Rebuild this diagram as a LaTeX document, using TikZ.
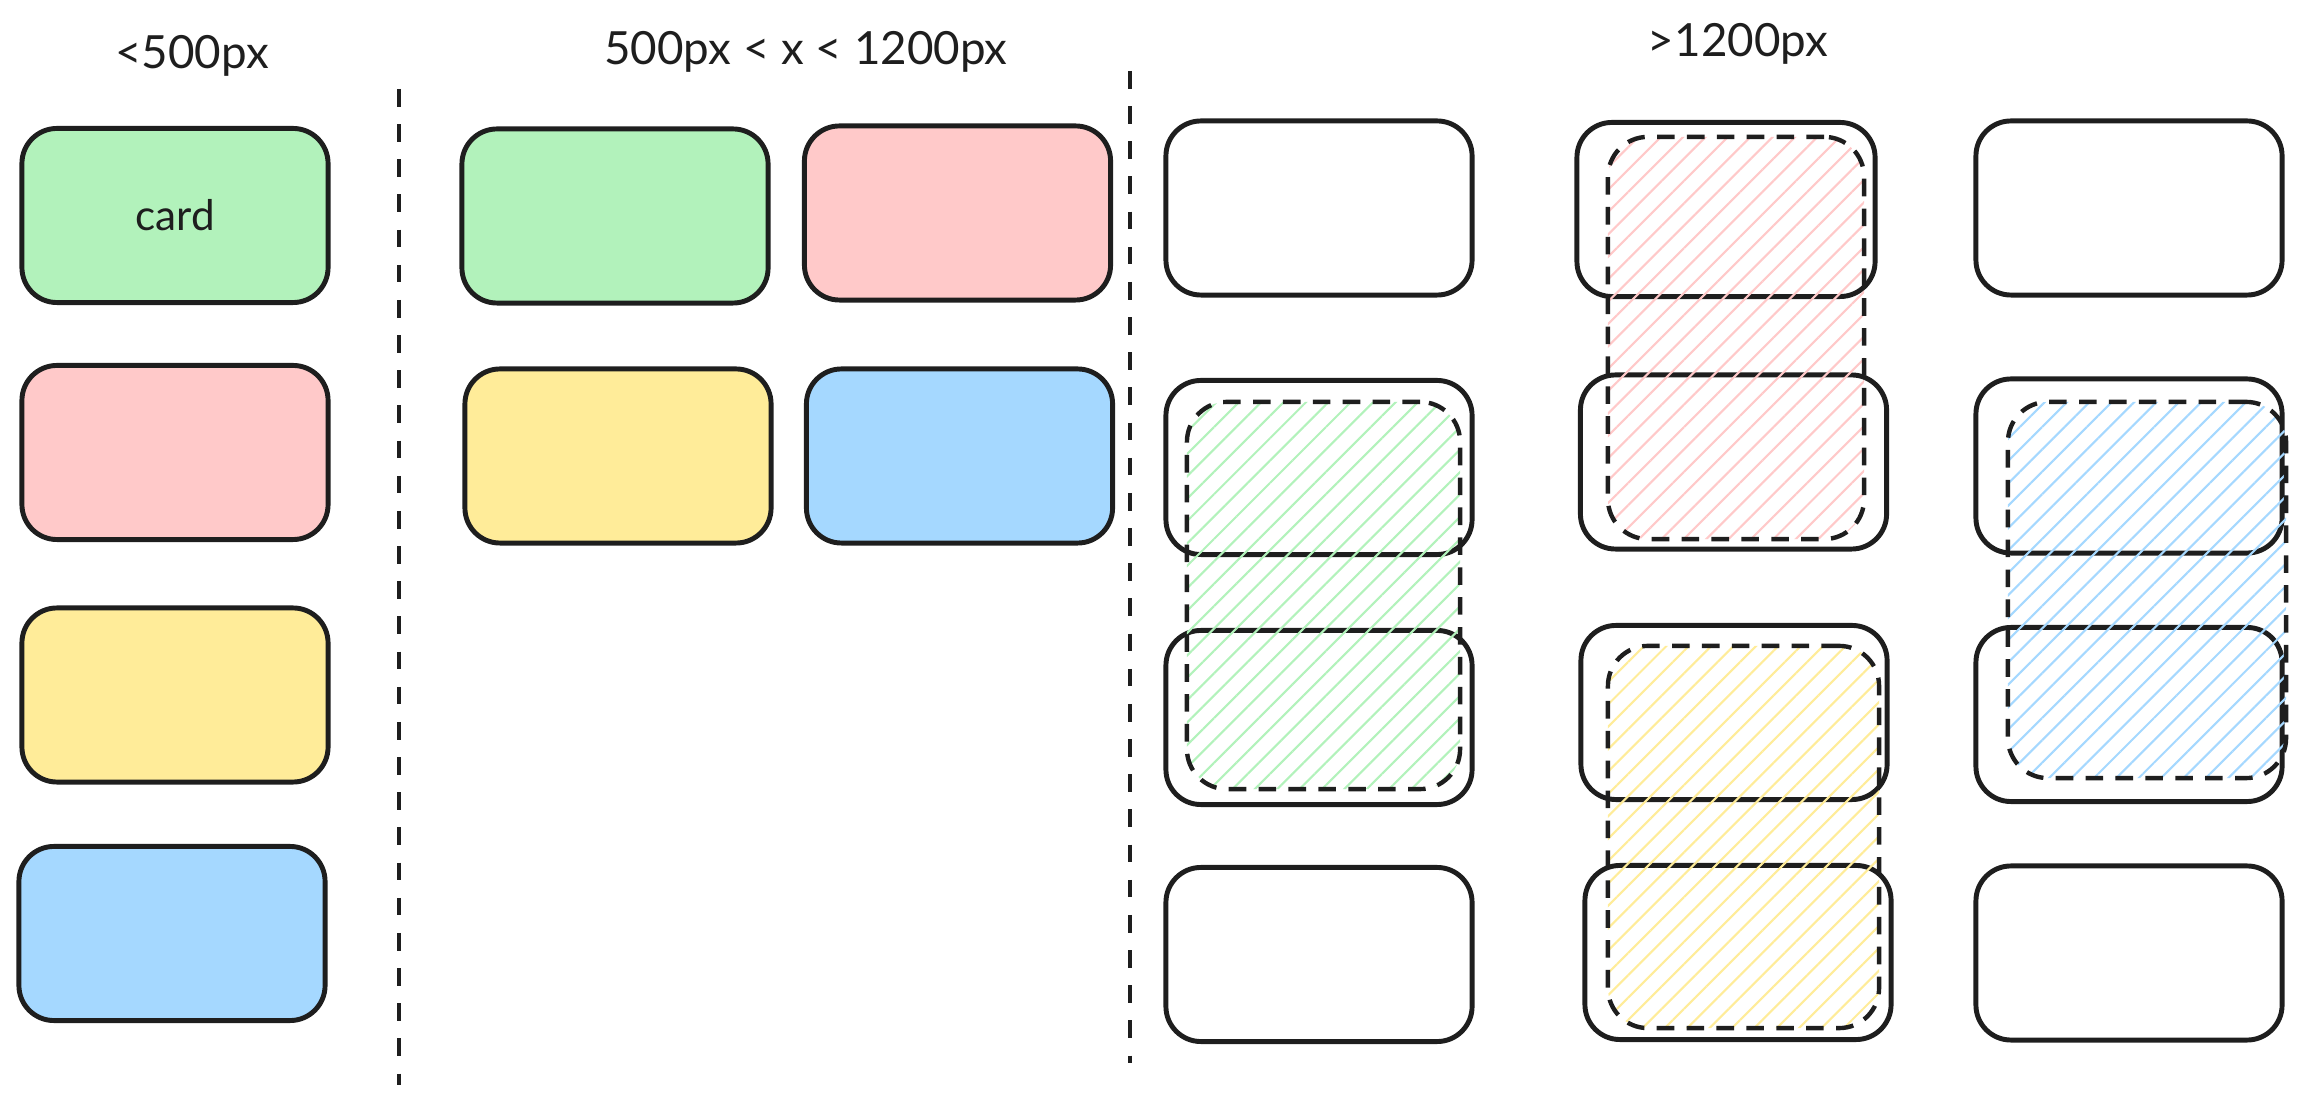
\documentclass[tikz,border=0pt]{standalone}
\usepackage{fontspec}
\setmainfont{Lato}
\usetikzlibrary{patterns.meta}
\definecolor{ink}{HTML}{1E1E1E}
\definecolor{cgreen}{HTML}{B2F2BB}
\definecolor{cred}{HTML}{FFC9C9}
\definecolor{cyellow}{HTML}{FFEC99}
\definecolor{cblue}{HTML}{A5D8FF}
\begin{document}
\begin{tikzpicture}[x=0.01cm,y=-0.01cm,
  card/.style={draw=ink, line width=1.4pt, rounded corners=0.35cm, minimum width=3.06cm, minimum height=1.74cm, inner sep=0pt, font=\fontsize{12}{14}\selectfont, text=ink},
  span/.style={draw=ink, line width=1.25pt, dash pattern=on 5pt off 3.5pt, rounded corners=0.4cm, inner sep=0pt, pattern={Lines[angle=45,distance=4.5pt,line width=0.6pt]}},
  divider/.style={draw=ink, line width=1.15pt, dash pattern=on 5pt off 5pt},
  title/.style={font=\fontsize{13}{16}\selectfont, text=ink}]
\useasboundingbox (0,0) rectangle (2315,1104);

% titles
\node[title] (t1) at (192,56) {<500px};
\node[title] (t2) at (806,52) {500px < x < 1200px};
\node[title] (t3) at (1738,44) {>1200px};

% dividers
\coordinate (d1top) at (399,89);
\coordinate (d1bot) at (399,1085);
\coordinate (d2top) at (1130,71);
\coordinate (d2bot) at (1130,1063);
\draw[divider] (d1top) -- (d1bot);
\draw[divider] (d2top) -- (d2bot);

% column 1
\node[card, fill=cgreen]  (a1) at (175,215.5) {card};
\node[card, fill=cred]    (a2) at (175,452.5) {};
\node[card, fill=cyellow] (a3) at (175,695) {};
\node[card, fill=cblue]   (a4) at (172,933.5) {};

% column 2
\node[card, fill=cgreen]  (b1) at (615,216) {};
\node[card, fill=cred]    (b2) at (957.5,213) {};
\node[card, fill=cyellow] (b3) at (618,456) {};
\node[card, fill=cblue]   (b4) at (959.5,456) {};

% column 3
\node[card] (c1) at (1319,208) {};
\node[card] (c2) at (1319,467.5) {};
\node[card] (c3) at (1319,717.5) {};
\node[card] (c4) at (1319,954.5) {};
\node[card, minimum width=2.98cm] (c5) at (1726,209.5) {};
\node[card] (c6) at (1733.5,462) {};
\node[card] (c7) at (1734,712.5) {};
\node[card] (c8) at (1738,952.5) {};
\node[card] (c9) at (2129,208) {};
\node[card] (c10) at (2129,466) {};
\node[card] (c11) at (2129,714.5) {};
\node[card] (c12) at (2129,953) {};

% spanning items
\node[span, pattern color=cgreen,  minimum width=2.73cm, minimum height=3.87cm] (s1) at (1323.5,595.5) {};
\node[span, pattern color=cred,    minimum width=2.56cm, minimum height=4.02cm] (s2) at (1736,338) {};
\node[span, pattern color=cyellow, minimum width=2.71cm, minimum height=3.82cm] (s3) at (1743.5,837) {};
\node[span, pattern color=cblue,   minimum width=2.78cm, minimum height=3.76cm] (s4) at (2147,590) {};
\end{tikzpicture}
\end{document}
